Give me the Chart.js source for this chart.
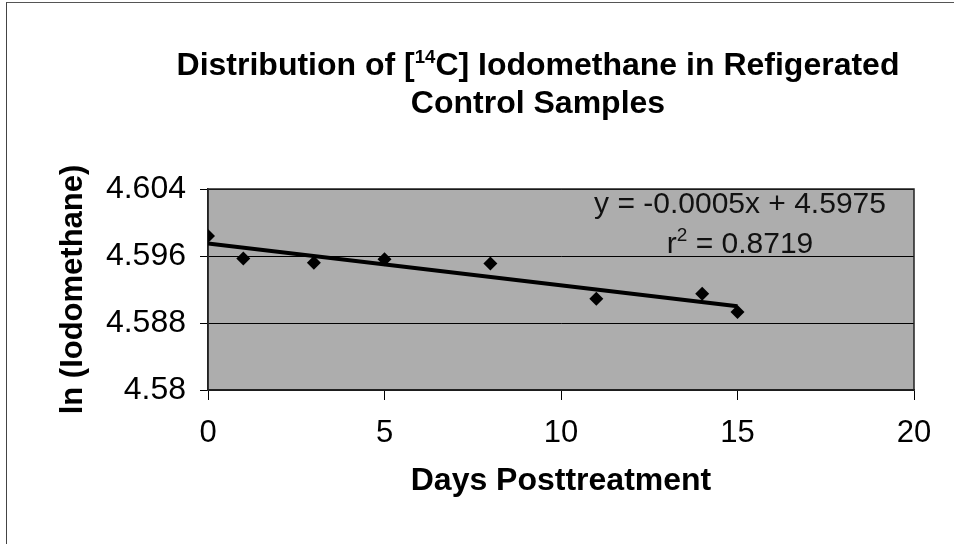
<!DOCTYPE html>
<html>
<head>
<meta charset="utf-8">
<script src="https://cdn.jsdelivr.net/npm/chart.js@4.4.1/dist/chart.umd.min.js"></script>
<style>
  html, body { margin: 0; padding: 0; background: #fff; }
  #wrap { position: relative; width: 954px; height: 544px; overflow: hidden; }
  #frame { position: absolute; left: 6px; top: 2px; width: 2000px; height: 2000px; border-left: 1px solid #444; border-top: 1px solid #555; }
  #title {
    position: absolute; left: 138px; top: 45px; width: 800px;
    text-align: center; font: bold 32px "Liberation Sans", Arial, sans-serif;
    line-height: 38px; color: #000;
  }
  #title sup { font-size: 58%; line-height: 0; vertical-align: 0.65em; }
  canvas { position: absolute; left: 0; top: 0; }
</style>
</head>
<body>
<div id="wrap">
  <div id="frame"></div>
  <canvas id="chart" width="954" height="544"></canvas>
  <div id="title">Distribution of [<sup>14</sup>C] Iodomethane in Refigerated<br>Control Samples</div>
</div>
<script>
// values
const days = [0, 1, 3, 5, 8, 11, 14, 15];
const lnIodomethane = [4.5984, 4.5957, 4.5952, 4.5956, 4.5951, 4.5909, 4.5915, 4.5893];
const trendDays = [0, 15];
const trendValues = [4.5975, 4.5900];
const xTicks = [0, 5, 10, 15, 20];
const yTicks = [4.58, 4.588, 4.596, 4.604];
const equationText = 'y = -0.0005x + 4.5975';
const rSquaredText = '0.8719';

const FONT = '"Liberation Sans", Arial, sans-serif';

const plotBox = {
  id: 'plotBox',
  beforeDraw(chart) {
    const { ctx, chartArea: a } = chart;
    ctx.save();
    ctx.fillStyle = '#adadad';
    ctx.fillRect(a.left, a.top, a.width, a.height);
    ctx.restore();
  },
  beforeDatasetsDraw(chart) {
    const { ctx, chartArea: a } = chart;
    ctx.save();
    ctx.strokeStyle = '#222';
    ctx.lineWidth = 1.5;
    ctx.strokeRect(a.left, a.top, a.width, a.height);
    ctx.restore();
  },
  afterDatasetsDraw(chart) {
    const { ctx, chartArea: a } = chart;
    const cx = a.right - 174;
    ctx.save();
    ctx.fillStyle = '#111';
    ctx.textBaseline = 'alphabetic';
    ctx.font = '30px ' + FONT;
    ctx.textAlign = 'center';
    ctx.fillText(equationText, cx, a.top + 24);

    // r² line with a raised 2
    const rest = ' = ' + rSquaredText;
    ctx.textAlign = 'left';
    const wr = ctx.measureText('r').width;
    const wrest = ctx.measureText(rest).width;
    ctx.font = '19px ' + FONT;
    const w2 = ctx.measureText('2').width;
    let x = cx - (wr + w2 + wrest) / 2;
    const base = a.top + 64;
    ctx.font = '30px ' + FONT;
    ctx.fillText('r', x, base);
    ctx.font = '19px ' + FONT;
    ctx.fillText('2', x + wr, base - 12);
    ctx.font = '30px ' + FONT;
    ctx.fillText(rest, x + wr + w2, base);
    ctx.restore();
  }
};

new Chart(document.getElementById('chart'), {
  type: 'scatter',
  data: {
    datasets: [
      {
        label: 'data',
        data: days.map((d, i) => ({ x: d, y: lnIodomethane[i] })),
        pointStyle: 'rectRot',
        pointRadius: 7,
        backgroundColor: '#000',
        borderColor: '#000',
        borderWidth: 0,
        order: 1
      },
      {
        label: 'trend',
        type: 'line',
        data: trendDays.map((d, i) => ({ x: d, y: trendValues[i] })),
        borderColor: '#000',
        borderWidth: 4,
        pointRadius: 0,
        fill: false,
        order: 2
      }
    ]
  },
  options: {
    responsive: false,
    animation: false,
    layout: { padding: { top: 189, right: 40, left: 0, bottom: 0 } },
    plugins: { legend: { display: false }, tooltip: { enabled: false }, title: { display: false } },
    scales: {
      x: {
        type: 'linear',
        position: 'bottom',
        min: 0,
        max: 20,
        afterBuildTicks: (scale) => { scale.ticks = xTicks.map(v => ({ value: v })); },
        afterFit: (scale) => { scale.height = 154; },
        grid: { drawOnChartArea: false, drawTicks: true, tickLength: 10, color: '#000', lineWidth: 1 },
        border: { color: '#222', width: 1.5 },
        ticks: { color: '#000', padding: 15, font: { family: FONT, size: 31 } },
        title: {
          display: true,
          text: 'Days Posttreatment',
          color: '#000',
          font: { family: FONT, size: 32, weight: 'bold' },
          padding: { top: 0, bottom: 44 }
        }
      },
      y: {
        type: 'linear',
        min: 4.58,
        max: 4.604,
        afterBuildTicks: (scale) => { scale.ticks = yTicks.map(v => ({ value: v })); },
        afterFit: (scale) => { scale.width = 208; },
        grid: { drawTicks: true, tickLength: 8, color: '#000', lineWidth: 1 },
        border: { color: '#222', width: 1.5 },
        ticks: {
          color: '#000',
          padding: 14,
          font: { family: FONT, size: 32 },
          callback: (v) => String(v)
        },
        title: {
          display: true,
          text: 'ln (Iodomethane)',
          color: '#000',
          font: { family: FONT, size: 31, weight: 'bold' },
          padding: { top: 55, bottom: 0 }
        }
      }
    }
  },
  plugins: [plotBox]
});
</script>
</body>
</html>
